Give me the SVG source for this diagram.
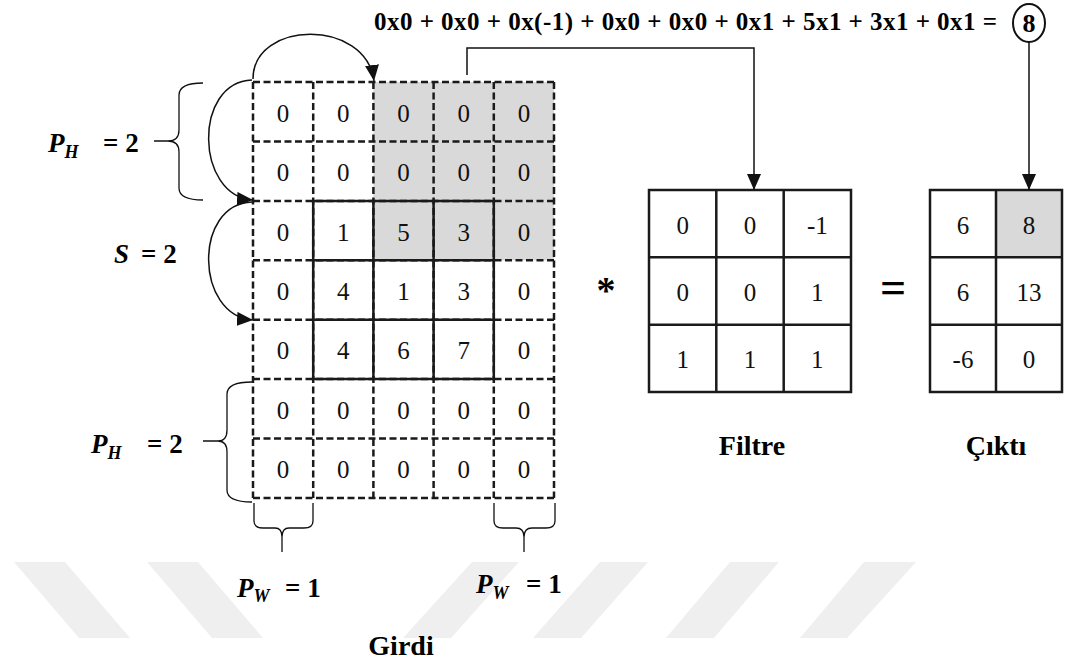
<svg xmlns="http://www.w3.org/2000/svg" width="1072" height="666" viewBox="0 0 1072 666" font-family="'Liberation Serif', 'DejaVu Serif', serif">
  <defs>
    <marker id="ah" markerWidth="16" markerHeight="14" refX="16" refY="7" orient="auto" markerUnits="userSpaceOnUse">
      <path d="M0,0 L16,7 L0,14 z" fill="#111"/>
    </marker>
    <style>
      .dash { stroke: #1a1a1a; stroke-width: 2.5; stroke-dasharray: 7 3.5; fill: none; }
      .solid { stroke: #1a1a1a; stroke-width: 2.5; fill: none; }
      .shade { fill: #d9d9d9; }
      .num { font-size: 25px; fill: #111; text-anchor: middle; }
      .lbl { font-weight: bold; fill: #000; }
      .it { font-style: italic; }
      .conn { stroke: #111; stroke-width: 1.5; fill: none; }
      .brace { stroke: #111; stroke-width: 1.3; fill: none; }
      .wm { fill: #efefef; }
    </style>
  </defs>

  <rect width="1072" height="666" fill="#fff"/>

  <!-- faint diagonal stripes along the bottom -->
  <g id="watermark">
    <polygon class="wm" points="14,562 65,562 130,638 79,638"/>
    <polygon class="wm" points="147,562 198,562 263,638 212,638"/>
    <polygon class="wm" points="472,562 519,562 451,638 403,638"/>
    <polygon class="wm" points="600,562 648,562 581,638 533,638"/>
    <polygon class="wm" points="730,562 779,562 714,638 666,638"/>
    <polygon class="wm" points="864,562 916,562 847,638 800,638"/>
  </g>

  <!-- input matrix with zero padding -->
  <g id="input-grid">
    <rect class="shade" x="373.4" y="82" width="180.6" height="178.3"/>
    <g class="dash">
      <line x1="253" y1="82" x2="554" y2="82"/>
      <line x1="253" y1="141.4" x2="554" y2="141.4"/>
      <line x1="253" y1="200.9" x2="554" y2="200.9"/>
      <line x1="253" y1="260.3" x2="554" y2="260.3"/>
      <line x1="253" y1="319.7" x2="554" y2="319.7"/>
      <line x1="253" y1="379.1" x2="554" y2="379.1"/>
      <line x1="253" y1="438.6" x2="554" y2="438.6"/>
      <line x1="253" y1="498" x2="554" y2="498"/>
      <line x1="253" y1="82" x2="253" y2="498"/>
      <line x1="313.2" y1="82" x2="313.2" y2="498"/>
      <line x1="373.4" y1="82" x2="373.4" y2="498"/>
      <line x1="433.6" y1="82" x2="433.6" y2="498"/>
      <line x1="493.8" y1="82" x2="493.8" y2="498"/>
      <line x1="554" y1="82" x2="554" y2="498"/>
    </g>
    <!-- original 3x3 data area -->
    <path class="solid" d="M313.2,200.9 H493.8 V379.1 H313.2 Z M313.2,260.3 H493.8 M313.2,319.7 H493.8 M373.4,200.9 V379.1 M433.6,200.9 V379.1"/>
    <g class="num" font-family="'Liberation Serif', serif">
      <text x="283.1" y="121.7">0</text><text x="343.3" y="121.7">0</text><text x="403.5" y="121.7">0</text><text x="463.7" y="121.7">0</text><text x="523.9" y="121.7">0</text>
      <text x="283.1" y="181.1">0</text><text x="343.3" y="181.1">0</text><text x="403.5" y="181.1">0</text><text x="463.7" y="181.1">0</text><text x="523.9" y="181.1">0</text>
      <text x="283.1" y="240.6">0</text><text x="343.3" y="240.6">1</text><text x="403.5" y="240.6">5</text><text x="463.7" y="240.6">3</text><text x="523.9" y="240.6">0</text>
      <text x="283.1" y="300">0</text><text x="343.3" y="300">4</text><text x="403.5" y="300">1</text><text x="463.7" y="300">3</text><text x="523.9" y="300">0</text>
      <text x="283.1" y="359.4">0</text><text x="343.3" y="359.4">4</text><text x="403.5" y="359.4">6</text><text x="463.7" y="359.4">7</text><text x="523.9" y="359.4">0</text>
      <text x="283.1" y="418.9">0</text><text x="343.3" y="418.9">0</text><text x="403.5" y="418.9">0</text><text x="463.7" y="418.9">0</text><text x="523.9" y="418.9">0</text>
      <text x="283.1" y="478.3">0</text><text x="343.3" y="478.3">0</text><text x="403.5" y="478.3">0</text><text x="463.7" y="478.3">0</text><text x="523.9" y="478.3">0</text>
    </g>
  </g>

  <!-- 3x3 kernel -->
  <g id="filter">
    <path class="solid" d="M649,190 H851 V392 H649 Z M649,257.3 H851 M649,324.7 H851 M716.3,190 V392 M783.7,190 V392"/>
    <g class="num" font-family="'Liberation Serif', serif">
      <text x="682.7" y="233.7">0</text><text x="750" y="233.7">0</text><text x="817.3" y="233.7">-1</text>
      <text x="682.7" y="301">0</text><text x="750" y="301">0</text><text x="817.3" y="301">1</text>
      <text x="682.7" y="368.3">1</text><text x="750" y="368.3">1</text><text x="817.3" y="368.3">1</text>
    </g>
  </g>

  <!-- 3x2 result -->
  <g id="output">
    <rect class="shade" x="996" y="190" width="66" height="67.3"/>
    <path class="solid" d="M930,190 H1062 V392 H930 Z M930,257.3 H1062 M930,324.7 H1062 M996,190 V392"/>
    <g class="num" font-family="'Liberation Serif', serif">
      <text x="963" y="233.7">6</text><text x="1029" y="233.7">8</text>
      <text x="963" y="301">6</text><text x="1029" y="301">13</text>
      <text x="963" y="368.3">-6</text><text x="1029" y="368.3">0</text>
    </g>
  </g>

  <!-- operators -->
  <g id="operators" class="lbl" font-family="'Liberation Serif', serif">
    <text x="606" y="303" font-size="38" text-anchor="middle">*</text>
    <text x="893" y="303" font-size="46" text-anchor="middle">=</text>
  </g>

  <!-- sum of products and circled result -->
  <g id="equation" font-family="'Liberation Serif', serif">
    <text class="lbl" x="374" y="30" font-size="25" textLength="623" lengthAdjust="spacing">0x0 + 0x0 + 0x(-1) + 0x0 + 0x0 + 0x1 + 5x1 + 3x1 + 0x1 =</text>
    <ellipse cx="1029" cy="23" rx="16" ry="19" fill="none" stroke="#111" stroke-width="2"/>
    <text class="lbl" x="1029" y="32" font-size="26" text-anchor="middle">8</text>
  </g>

  <g id="connectors">
    <path class="conn" d="M467,75 V48 H754 V190" marker-end="url(#ah)"/>
    <path class="conn" d="M1029,42 V190" marker-end="url(#ah)"/>
    <path class="conn" d="M253,79 C253,20 366,18 374,81" marker-end="url(#ah)"/>
    <path class="conn" d="M252,80 C193,82 195,196 253,200" marker-end="url(#ah)"/>
    <path class="conn" d="M252,202 C193,204 195,316 253,320" marker-end="url(#ah)"/>
  </g>

  <g id="braces">
    <path class="brace" d="M203,83 Q179,83 179,95 L179,130 Q179,141 168,141 Q179,141 179,152 L179,188 Q179,200 203,200 M154,141 H168"/>
    <path class="brace" d="M252,382 Q227,382 227,394 L227,430 Q227,441 218,441 Q227,441 227,452 L227,490 Q227,502 252,502 M203,441 H218"/>
    <path class="brace" d="M254,503 V521 Q254,528 263,528 H275 Q282,528 282,537 Q282,528 289,528 H304 Q313,528 313,521 V503 M282,537 V552"/>
    <path class="brace" d="M494,503 V521 Q494,528 503,528 H516 Q524,528 524,537 Q524,528 532,528 H546 Q555,528 555,521 V503 M524,537 V552"/>
  </g>

  <g id="labels" class="lbl" font-family="'Liberation Serif', serif">
    <text x="48" y="152" font-size="27"><tspan class="it">P</tspan><tspan class="it" font-size="18" dy="6">H</tspan><tspan x="103" dy="-6">= 2</tspan></text>
    <text x="114" y="263" font-size="27"><tspan class="it">S</tspan><tspan x="141">= 2</tspan></text>
    <text x="91" y="453" font-size="27"><tspan class="it">P</tspan><tspan class="it" font-size="18" dy="6">H</tspan><tspan x="147" dy="-6">= 2</tspan></text>
    <text x="237" y="597" font-size="27"><tspan class="it">P</tspan><tspan class="it" font-size="18" dy="5">W</tspan><tspan x="285" dy="-5">= 1</tspan></text>
    <text x="476" y="593" font-size="27"><tspan class="it">P</tspan><tspan class="it" font-size="18" dy="6">W</tspan><tspan x="526" dy="-6">= 1</tspan></text>
    <text x="752" y="455" font-size="28" text-anchor="middle">Filtre</text>
    <text x="996" y="455" font-size="28" text-anchor="middle">Çıktı</text>
    <text x="401" y="655" font-size="28" text-anchor="middle">Girdi</text>
  </g>
</svg>
